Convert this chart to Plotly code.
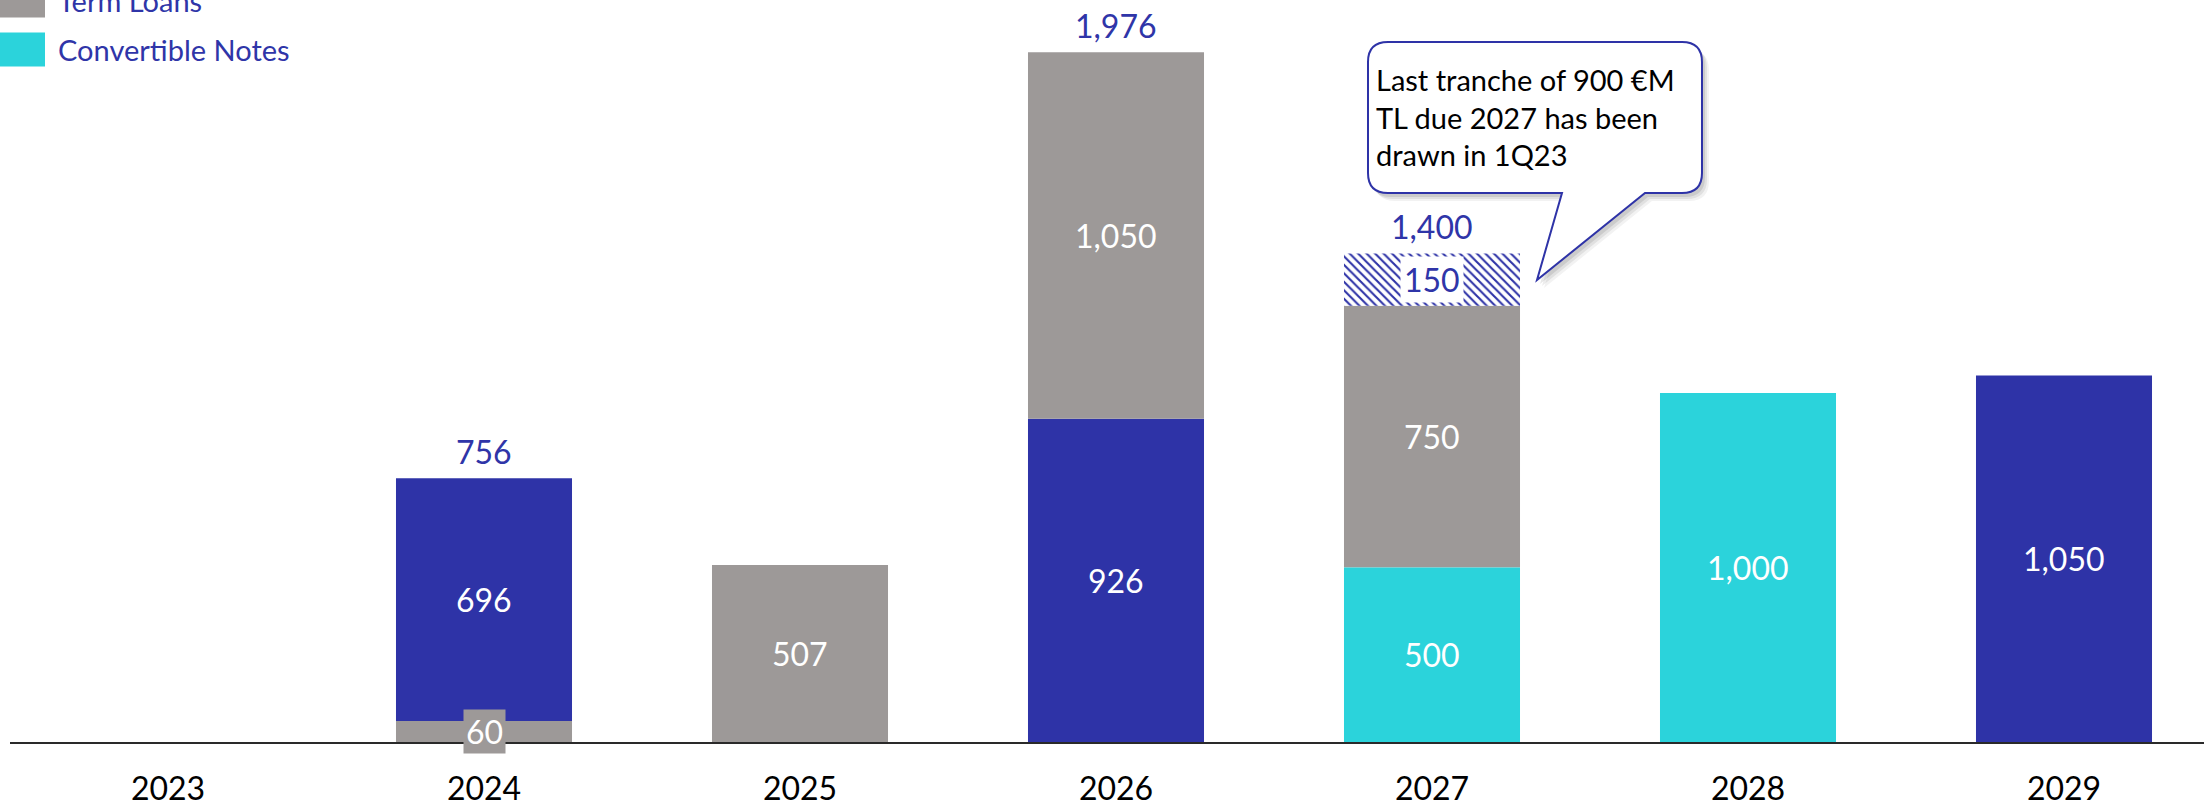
import plotly.graph_objects as go

# ---- data -----------------------------------------------------------------
years = ["2023", "2024", "2025", "2026", "2027", "2028", "2029"]
bonds = [None, 696, None, 926, None, None, 1050]
term_loans = [None, 60, 507, 1050, 750, None, None]
convertible_notes = [None, None, None, None, 500, 1000, None]
undrawn_tl = [None, None, None, None, 150, None, None]
# years where the term loan sits underneath the bonds in the stack
tl_below_bonds = ["2024", "2025"]

callout_text = "Last tranche of 900 €M<br>TL due 2027 has been<br>drawn in 1Q23"

# ---- styling --------------------------------------------------------------
BLUE = "#2E33A7"
GREY = "#9D9998"
CYAN = "#2BD3DB"
TXT_BLUE = "#2F35A8"
FONT = "Lato"
FS = 32

W, H = 2204, 803
M_L, M_R, M_T, M_B = 10, 0, 0, 61
PW, PH = W - M_L - M_R, H - M_T - M_B
Y_MAX = 2126
BAR_W = 0.557


def px_x(px):
    return (px - M_L) / PW


def px_y(py):
    return (H - M_B - py) / PH


series = {
    "Bonds": (bonds, BLUE),
    "Term Loans": (term_loans, GREY),
    "Convertible Notes": (convertible_notes, CYAN),
    "Undrawn": (undrawn_tl, "white"),
}

# stacking: compute the base of every segment year by year
bases = {k: [None] * len(years) for k in series}
for i, yr in enumerate(years):
    if yr in tl_below_bonds:
        order = ["Term Loans", "Bonds", "Convertible Notes", "Undrawn"]
    else:
        order = ["Bonds", "Convertible Notes", "Term Loans", "Undrawn"]
    acc = 0
    for name in order:
        v = series[name][0][i]
        if v:
            bases[name][i] = acc
            acc += v

fig = go.Figure()
for name, (vals, col) in series.items():
    xs = [y for y, v in zip(years, vals) if v]
    ys = [v for v in vals if v]
    bs = [b for b, v in zip(bases[name], vals) if v]
    marker = dict(color=col, line=dict(width=0))
    if name == "Undrawn":
        marker = dict(
            color=BLUE,
            line=dict(width=0),
            pattern=dict(shape="\\", fgcolor=BLUE, bgcolor="white",
                         size=6, solidity=0.35, fillmode="replace"),
        )
    fig.add_trace(go.Bar(x=xs, y=ys, base=bs, width=BAR_W, name=name,
                         marker=marker, showlegend=False, hoverinfo="skip"))

annotations = []
# labels inside segments (x given as category index)
for name, (vals, col) in series.items():
    for i, v in enumerate(vals):
        if not v:
            continue
        mid = bases[name][i] + v / 2
        if name == "Undrawn":
            annotations.append(dict(x=i, y=mid, text=f"{v:,}", showarrow=False,
                                    font=dict(family=FONT, size=FS, color=TXT_BLUE),
                                    bgcolor="white", borderpad=3))
        elif v < 100:
            annotations.append(dict(x=i, y=mid, text=f"{v:,}", showarrow=False,
                                    font=dict(family=FONT, size=FS, color="white"),
                                    bgcolor=col, borderpad=2))
        else:
            annotations.append(dict(x=i, y=mid, text=f"{v:,}", showarrow=False,
                                    font=dict(family=FONT, size=FS, color="white")))

# totals above multi-segment stacks
for i, yr in enumerate(years):
    parts = [series[n][0][i] for n in series if series[n][0][i]]
    if len(parts) > 1:
        annotations.append(dict(x=i, y=sum(parts), text=f"{sum(parts):,}", showarrow=False,
                                yanchor="bottom", yshift=5,
                                font=dict(family=FONT, size=FS, color=TXT_BLUE)))

shapes = []
# legend (top-left)
legend_items = [("Term Loans", GREY, 0.5), ("Convertible Notes", CYAN, 49.5)]
for label, col, cy in legend_items:
    shapes.append(dict(type="rect", xref="paper", yref="paper",
                       x0=px_x(0), x1=px_x(45), y0=px_y(cy - 17), y1=px_y(cy + 17),
                       fillcolor=col, line=dict(width=0)))
    annotations.append(dict(xref="paper", yref="paper", x=px_x(56), y=px_y(cy),
                            xanchor="left", yanchor="middle", text=label, showarrow=False,
                            font=dict(family=FONT, size=29, color=TXT_BLUE)))


# speech-bubble callout
def bubble_path(dx=0, dy=0):
    L, R, T, B, r = 1368 + dx, 1702 + dx, 42 + dy, 193 + dy, 20
    t1, tip, t2 = (1562 + dx, B), (1537 + dx, 280 + dy), (1645 + dx, B)

    def p(x, y):
        return f"{px_x(x):.5f},{px_y(y):.5f}"

    return (f"M {p(L + r, T)} L {p(R - r, T)} Q {p(R, T)} {p(R, T + r)} "
            f"L {p(R, B - r)} Q {p(R, B)} {p(R - r, B)} "
            f"L {p(*t2)} L {p(*tip)} L {p(*t1)} "
            f"L {p(L + r, B)} Q {p(L, B)} {p(L, B - r)} "
            f"L {p(L, T + r)} Q {p(L, T)} {p(L + r, T)} Z")


for off, a in [(7, 0.05), (5, 0.07), (3, 0.09)]:
    shapes.append(dict(type="path", xref="paper", yref="paper", path=bubble_path(off, off + 1),
                       fillcolor=f"rgba(0,0,0,{a})", line=dict(width=0)))
shapes.append(dict(type="path", xref="paper", yref="paper", path=bubble_path(),
                   fillcolor="white", line=dict(color=BLUE, width=2)))
annotations.append(dict(xref="paper", yref="paper", x=px_x(1374), y=px_y(60),
                        xanchor="left", yanchor="top", align="left", text=callout_text,
                        showarrow=False, font=dict(family=FONT, size=29, color="black")))

fig.update_layout(
    width=W, height=H, autosize=False,
    margin=dict(l=M_L, r=M_R, t=M_T, b=M_B),
    paper_bgcolor="white", plot_bgcolor="white",
    barmode="overlay",
    showlegend=False,
    annotations=annotations,
    shapes=shapes,
    xaxis=dict(type="category", categoryorder="array", categoryarray=years,
               range=[-0.5, PW / 316 - 0.5], showgrid=False, zeroline=False,
               showline=True, linecolor="#2a2a2a", linewidth=2, ticks="",
               ticklabelstandoff=18, automargin=False,
               tickfont=dict(family=FONT, size=FS, color="black"), fixedrange=True),
    yaxis=dict(range=[0, Y_MAX], visible=False, showgrid=False, zeroline=False,
               automargin=False, fixedrange=True),
)

fig.write_html("out.html")
